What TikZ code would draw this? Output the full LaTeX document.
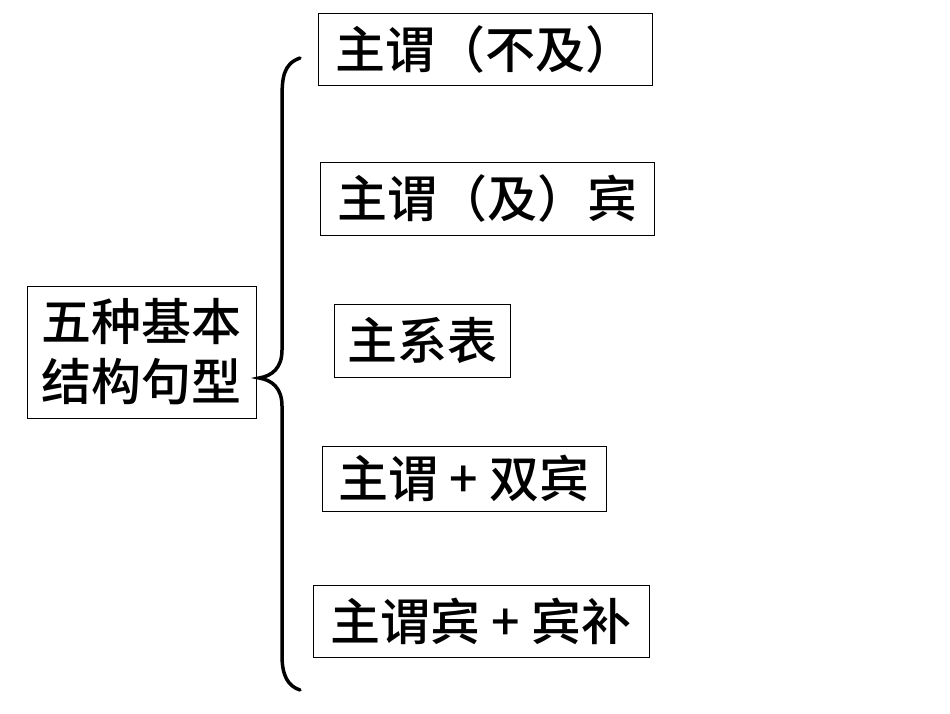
\documentclass[tikz,border=0pt]{standalone}
\usepackage{fontspec}
\setmainfont{Noto Sans CJK SC}[BoldFont={Noto Sans CJK SC Medium}]
\usetikzlibrary{positioning}
\begin{document}
\begin{tikzpicture}[x=1pt,y=-1pt,
    box/.style={draw, rectangle, inner sep=0pt, font=\fontsize{50}{60}\selectfont\bfseries},
    brace/.style={line width=3.5pt, line cap=round}
  ]
  \useasboundingbox (0,0) rectangle (950,713);
  \node[box, minimum width=229pt, minimum height=132pt, align=center] (types) at (141.5,352) {五种基本\\结构句型};
  \node[box, minimum width=334pt, minimum height=72pt] (svi) at (485,49) {主谓（不及）};
  \node[box, minimum width=334pt, minimum height=73pt] (svo) at (487,198.5) {主谓（及）宾};
  \node[box, minimum width=176pt, minimum height=73pt] (slp) at (422,340.5) {主系表};
  \node[box, minimum width=284pt, minimum height=65pt] (svoo) at (464,478.5) {主谓 + 双宾};
  \node[box, minimum width=336pt, minimum height=72pt] (svoc) at (481,621) {主谓宾 + 宾补};

  % brace
  \coordinate (top) at (300,58);
  \coordinate (tip) at (259,378);
  \coordinate (bot) at (300,690);
  \draw[brace] (top) .. controls (283,64) and (282,78) .. (282,100)
    -- (282,350) .. controls (282,368) and (272,376) .. (tip)
    .. controls (272,380) and (282,388) .. (282,406)
    -- (282,655) .. controls (282,676) and (288,686) .. (bot);
\end{tikzpicture}
\end{document}
